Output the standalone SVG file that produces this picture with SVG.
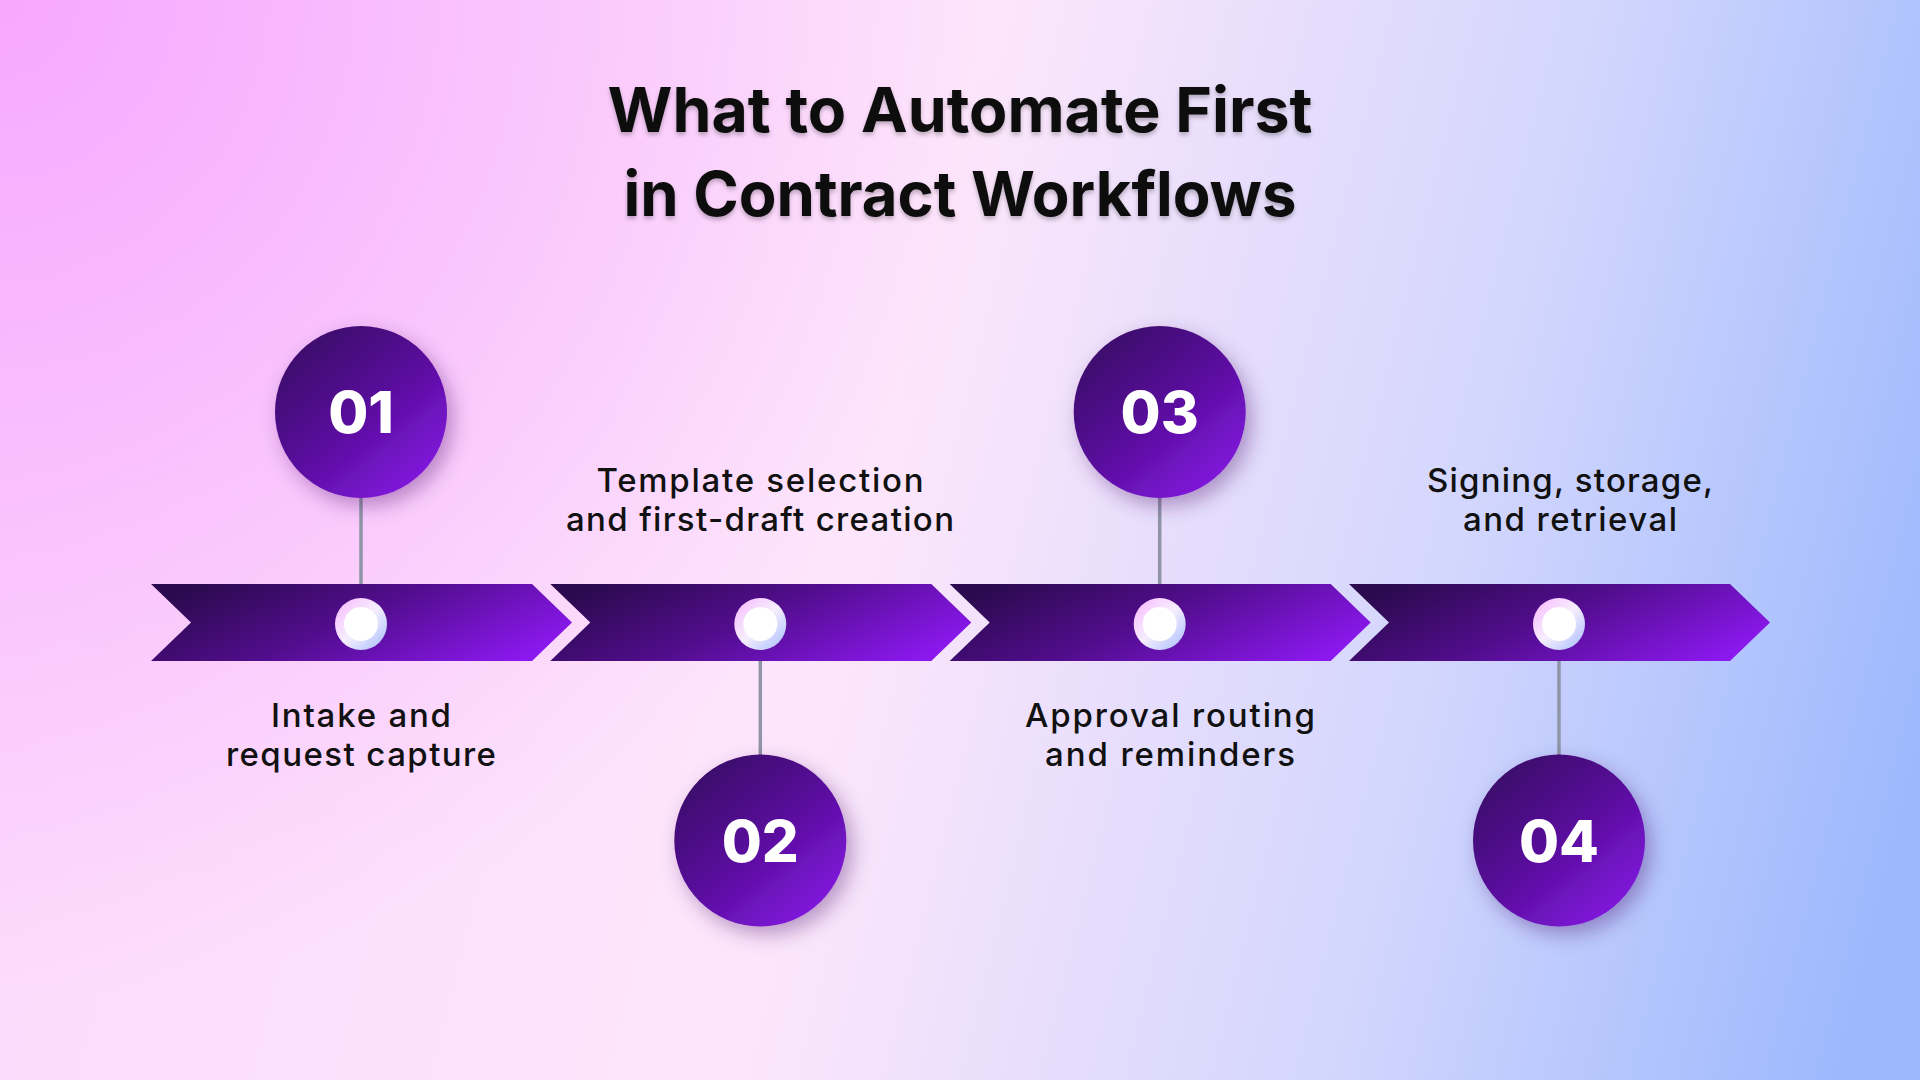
<svg xmlns="http://www.w3.org/2000/svg" width="1920" height="1080" viewBox="0 0 1920 1080">
<defs>
  <linearGradient id="bg" gradientUnits="userSpaceOnUse" x1="0" y1="300" x2="1920" y2="780">
    <stop offset="0" stop-color="#fcd9fc"/>
    <stop offset="0.45" stop-color="#fde6fb"/>
    <stop offset="0.75" stop-color="#d2d6fd"/>
    <stop offset="1" stop-color="#9cb8fd"/>
  </linearGradient>
  <radialGradient id="bgPink" gradientUnits="userSpaceOnUse" cx="0" cy="0" r="1000">
    <stop offset="0" stop-color="#f7a8ff" stop-opacity="1"/>
    <stop offset="1" stop-color="#f7a8ff" stop-opacity="0"/>
  </radialGradient>
  <linearGradient id="chev" x1="0" y1="0.3" x2="1" y2="0.7">
    <stop offset="0" stop-color="#2c0a4f"/>
    <stop offset="0.45" stop-color="#510d8c"/>
    <stop offset="1" stop-color="#8c18f0"/>
  </linearGradient>
  <linearGradient id="big" x1="0.15" y1="0.1" x2="0.85" y2="0.95">
    <stop offset="0" stop-color="#3c0a6a"/>
    <stop offset="0.5" stop-color="#5a0f9e"/>
    <stop offset="1" stop-color="#8416e2"/>
  </linearGradient>
  <linearGradient id="ring" x1="0.1" y1="0.1" x2="0.9" y2="0.9">
    <stop offset="0" stop-color="#f8c2ff"/>
    <stop offset="0.5" stop-color="#f6eefe"/>
    <stop offset="1" stop-color="#b5c6fe"/>
  </linearGradient>
  <filter id="shadow" x="-40%" y="-40%" width="190%" height="190%">
    <feDropShadow dx="6" dy="8" stdDeviation="10" flood-color="#3a1060" flood-opacity="0.35"/>
  </filter>
  <filter id="tshadow" x="-5%" y="-20%" width="110%" height="150%">
    <feDropShadow dx="0" dy="3" stdDeviation="2" flood-color="#000" flood-opacity="0.25"/>
  </filter>
  <style>
    .title{font-family:Inter,"Noto Sans","Liberation Sans",sans-serif;font-weight:700;font-size:62px;fill:#0d0d0d;text-anchor:middle}
    .lbl{font-family:Inter,"Noto Sans","Liberation Sans",sans-serif;font-weight:500;font-size:33px;fill:#111;text-anchor:middle}
    .num{font-family:Inter,"Noto Sans","Liberation Sans",sans-serif;font-weight:800;font-size:58px;fill:#fff;text-anchor:middle}
    .stem{stroke:#8f94a6;stroke-width:3.5;fill:none}
    .chev{fill:url(#chev)}
    .big{fill:url(#big);filter:url(#shadow)}
  </style>
</defs>

<rect width="1920" height="1080" fill="url(#bg)"/>
<rect width="1920" height="1080" fill="url(#bgPink)"/>

<g id="title" filter="url(#tshadow)">
  <text class="title" x="960" y="132" textLength="705" lengthAdjust="spacingAndGlyphs">What to Automate First</text>
  <text class="title" x="960" y="216" textLength="673" lengthAdjust="spacingAndGlyphs">in Contract Workflows</text>
</g>

<g id="connectors">
  <line class="stem" x1="361" y1="495" x2="361" y2="586"/>
  <line class="stem" x1="760.3" y1="659" x2="760.3" y2="758"/>
  <line class="stem" x1="1159.7" y1="495" x2="1159.7" y2="586"/>
  <line class="stem" x1="1559" y1="659" x2="1559" y2="758"/>
</g>

<g id="arrow-band">
  <polygon class="chev" points="151,584 532,584 572,622.5 532,661 151,661 191,622.5"/>
  <polygon class="chev" points="550.3,584 931.3,584 971.3,622.5 931.3,661 550.3,661 590.3,622.5"/>
  <polygon class="chev" points="949.7,584 1330.7,584 1370.7,622.5 1330.7,661 949.7,661 989.7,622.5"/>
  <polygon class="chev" points="1349,584 1730,584 1770,622.5 1730,661 1349,661 1389,622.5"/>
</g>

<g id="step1">
  <circle class="big" cx="361" cy="412" r="86"/>
  <text class="num" x="361" y="433">01</text>
  <circle cx="361" cy="624" r="26" fill="url(#ring)"/>
  <circle cx="361" cy="624" r="17" fill="#fff"/>
  <text class="lbl" x="361" y="727" textLength="180">Intake and</text>
  <text class="lbl" x="361" y="766" textLength="270">request capture</text>
</g>

<g id="step2">
  <circle class="big" cx="760.3" cy="840.5" r="86"/>
  <text class="num" x="760.3" y="861.5">02</text>
  <circle cx="760.3" cy="624" r="26" fill="url(#ring)"/>
  <circle cx="760.3" cy="624" r="17" fill="#fff"/>
  <text class="lbl" x="760" y="492" textLength="327">Template selection</text>
  <text class="lbl" x="760" y="531" textLength="388">and first-draft creation</text>
</g>

<g id="step3">
  <circle class="big" cx="1159.7" cy="412" r="86"/>
  <text class="num" x="1159.7" y="433">03</text>
  <circle cx="1159.7" cy="624" r="26" fill="url(#ring)"/>
  <circle cx="1159.7" cy="624" r="17" fill="#fff"/>
  <text class="lbl" x="1170" y="727" textLength="290">Approval routing</text>
  <text class="lbl" x="1170" y="766" textLength="250">and reminders</text>
</g>

<g id="step4">
  <circle class="big" cx="1559" cy="840.5" r="86"/>
  <text class="num" x="1559" y="861.5">04</text>
  <circle cx="1559" cy="624" r="26" fill="url(#ring)"/>
  <circle cx="1559" cy="624" r="17" fill="#fff"/>
  <text class="lbl" x="1570" y="492" textLength="286">Signing, storage,</text>
  <text class="lbl" x="1570" y="531" textLength="214">and retrieval</text>
</g>
</svg>
